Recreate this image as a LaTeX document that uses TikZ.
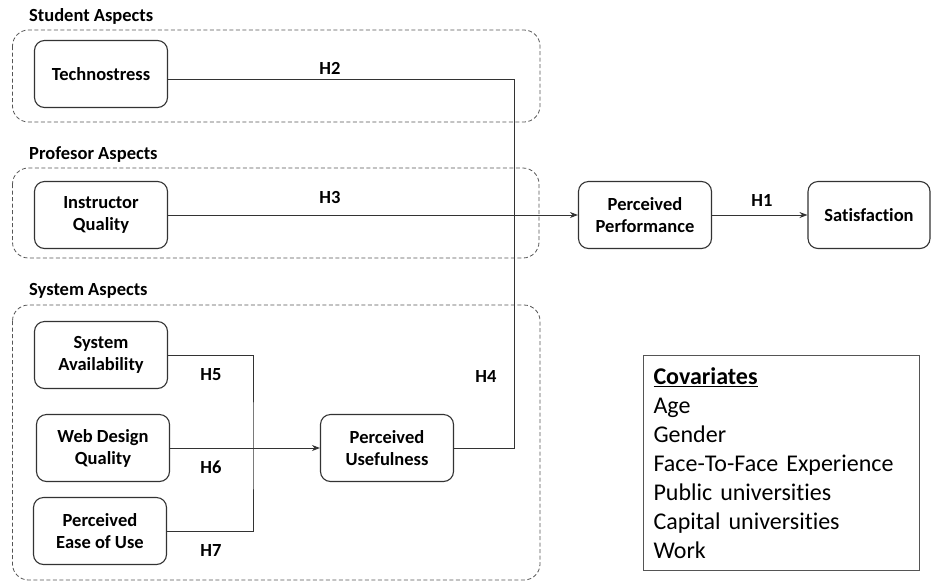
\documentclass[tikz,border=0pt]{standalone}
\usepackage{fontspec}
\setmainfont{Carlito}[Ligatures=NoCommon]
\newfontfamily\covfam{Carlito}[Ligatures=NoCommon, WordSpace=0.75]
\usepackage{tikz}
\usetikzlibrary{
  arrows.meta,
  positioning,
  calc
}
\definecolor{smLine}{HTML}{333333}
\definecolor{smGroup}{HTML}{555555}
\definecolor{smBox}{HTML}{555555}

\newcommand{\factorfont}{\fontsize{18.5}{22}\selectfont\bfseries}
\newcommand{\covfont}{\covfam\fontsize{24}{29}\selectfont}

\tikzset{
  factor/.style={draw=smLine, line width=1.1pt, rounded corners=10pt, align=center,
    minimum width=133pt, minimum height=67pt, inner sep=2pt, font=\factorfont},
  aspectbox/.style={draw=smGroup, line width=0.8pt, dash pattern=on 4pt off 2.5pt, rounded corners=16pt},
  aspectlbl/.style={anchor=west, font=\factorfont, inner sep=0pt},
  hlbl/.style={font=\factorfont, inner sep=0pt},
  link/.style={draw=smLine, line width=0.9pt},
  arr/.style={link, -{Stealth[length=8pt,width=6pt]}}
}

\begin{document}
\begin{tikzpicture}[x=1pt, y=-1pt]
  \useasboundingbox (0,0) rectangle (931,582);

  % aspect groups
  \draw[aspectbox] (12.5,30) rectangle (540,122);
  \draw[aspectbox] (12.5,168) rectangle (539,258);
  \draw[aspectbox] (12.5,305) rectangle (540,580);
  \node[aspectlbl] (lblStudent) at (29,16) {Student Aspects};
  \node[aspectlbl] (lblProf) at (29,155) {Profesor Aspects};
  \node[aspectlbl] (lblSystem) at (29,291) {System Aspects};

  % constructs
  \node[factor] (techno) at (101,74) {Technostress};
  \node[factor] (instr) at (101,215) {Instructor\\Quality};
  \node[factor] (avail) at (101,355) {System\\Availability};
  \node[factor] (webq) at (103,448) {Web Design\\Quality};
  \node[factor] (ease) at (100,531) {Perceived\\Ease of Use};
  \node[factor] (useful) at (387,448) {Perceived\\Usefulness};
  \node[factor] (perf) at (645,215) {Perceived\\Performance};
  \node[factor, minimum width=122pt] (satis) at (869,215) {Satisfaction};

  % junction points
  \coordinate (jSys) at (253,448);
  \coordinate (jRight) at (514,448);

  % paths
  \draw[link] (avail.east) -| (jSys) |- (ease.east);
  \draw[arr] (webq.east) -- (useful.west);
  \draw[link] ($(techno.east)+(0,5)$) -| (jRight) -- (useful.east);
  \draw[arr] (instr.east) -- (perf.west);
  \draw[arr] (perf.east) -- (satis.west);

  % hypotheses
  \node[hlbl] (h1) at (762,200) {H1};
  \node[hlbl] (h2) at (330,68) {H2};
  \node[hlbl] (h3) at (330,197) {H3};
  \node[hlbl] (h4) at (486,376) {H4};
  \node[hlbl] (h5) at (211,375) {H5};
  \node[hlbl] (h6) at (211,467) {H6};
  \node[hlbl] (h7) at (211,550) {H7};

  % covariates
  \node[draw=smBox, line width=1pt, anchor=north west, align=left, font=\covfont,
    text width=256pt, inner xsep=10pt, minimum height=215pt] (cov) at (643,355)
    {\textbf{\underline{Covariates}}\\Age\\Gender\\Face-To-Face Experience\\Public universities\\Capital universities\\Work};
\end{tikzpicture}
\end{document}
